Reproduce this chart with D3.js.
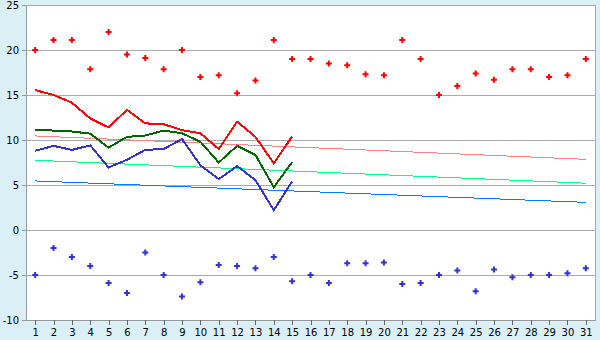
<!DOCTYPE html>
<html><head><meta charset="utf-8">
<script src="https://cdn.jsdelivr.net/npm/d3@7"></script>
<style>
html,body{margin:0;padding:0;background:#daf0f6;}
svg{display:block;}
text{font-family:"DejaVu Sans",sans-serif;font-size:10px;fill:#000;}
</style></head>
<body>
<svg id="chart" width="600" height="340"></svg>
<script>
const days = [1,2,3,4,5,6,7,8,9,10,11,12,13,14,15,16,17,18,19,20,21,22,23,24,25,26,27,28,29,30,31];
const yTicks = [-10,-5,0,5,10,15,20,25];
const maxPoints = [20,21.1,21.1,17.85,22,19.5,19.1,17.85,20,17,17.2,15.2,16.6,21.1,19,19,18.5,18.3,17.3,17.2,21.1,19,15,16,17.4,16.7,17.85,17.85,17,17.2,19];
const minPoints = [-5,-2,-3,-4,-5.9,-7,-2.5,-5,-7.4,-5.8,-3.9,-4,-4.25,-3,-5.7,-5,-5.9,-3.7,-3.7,-3.6,-6,-5.9,-5,-4.5,-6.8,-4.4,-5.25,-5,-5,-4.8,-4.25];
const lineDays = [1,2,3,4,5,6,7,8,9,10,11,12,13,14,15];
const redLine = [15.55,15.0,14.15,12.4,11.4,13.35,11.85,11.75,11.1,10.75,9.0,12.05,10.35,7.4,10.4];
const greenLine = [11.1,11.05,10.95,10.7,9.15,10.35,10.5,11.05,10.75,9.8,7.5,9.35,8.35,4.75,7.55];
const blueLine = [8.8,9.35,8.9,9.4,6.95,7.8,8.9,9.0,10.1,7.2,5.65,7.1,5.55,2.2,5.4];
const trendDays = [1,31];
const pinkTrend = [10.45,7.85];
const lightGreenTrend = [7.75,5.2];
const lightBlueTrend = [5.45,3.07];

const svg = d3.select("#chart");
const L=26, R=595, T=5, B=320;
const x = d3.scalePoint().domain(days).range([L,R]).padding(0.5);
const y = d3.scaleLinear().domain([-10,25]).range([B,T]);

svg.append("rect").attr("x",L).attr("y",T).attr("width",R-L).attr("height",B-T).attr("fill","#fff");

const yAxis = d3.axisLeft(y).tickValues(yTicks).tickSize(4).tickSizeOuter(0).tickPadding(3)
  .tickFormat(d=>String(d));
const gy = svg.append("g").attr("transform",`translate(${L},0)`).call(yAxis);
gy.select(".domain").attr("stroke","#999").attr("shape-rendering","crispEdges");
gy.selectAll(".tick line").attr("stroke","#999").attr("shape-rendering","crispEdges");
gy.selectAll(".tick text").attr("font-family","DejaVu Sans").attr("font-size",10);
svg.append("g").selectAll("line").data(yTicks.filter(v=>v>-10)).join("line")
  .attr("x1",L).attr("x2",R).attr("y1",d=>Math.round(y(d))+0.5).attr("y2",d=>Math.round(y(d))+0.5)
  .attr("stroke","#aaa");
svg.append("line").attr("x1",R+0.5).attr("x2",R+0.5).attr("y1",T).attr("y2",B).attr("stroke","#aaa");

const xAxis = d3.axisBottom(x).tickSize(5).tickSizeOuter(0).tickPadding(4);
const gx = svg.append("g").attr("transform",`translate(0,${B})`).call(xAxis);
gx.select(".domain").attr("stroke","#999").attr("shape-rendering","crispEdges");
gx.selectAll(".tick line").attr("stroke","#666").attr("shape-rendering","crispEdges");
gx.selectAll(".tick text").attr("font-family","DejaVu Sans").attr("font-size",10);

const line = d3.line().x(d=>x(d[0])).y(d=>y(d[1]));
function drawLine(xs, vs, color, w){
  svg.append("path").datum(xs.map((d,i)=>[d,vs[i]]))
    .attr("d",line).attr("fill","none").attr("stroke",color).attr("stroke-width",w)
    .attr("shape-rendering","crispEdges");
}
drawLine(trendDays, pinkTrend, "#ff8080", 1);
drawLine(trendDays, lightGreenTrend, "#00ff80", 1);
drawLine(trendDays, lightBlueTrend, "#0080ff", 1);
drawLine(lineDays, redLine, "#ff0000", 2);
drawLine(lineDays, greenLine, "#006600", 2);
drawLine(lineDays, blueLine, "#3333cc", 2);

const sym = d3.symbol().type(d3.symbolCross).size(20);
function drawPts(vs, color){
  svg.append("g").selectAll("path").data(days).join("path")
    .attr("transform",(d,i)=>`translate(${x(d)},${y(vs[i])})`)
    .attr("d",sym).attr("fill",color);
}
drawPts(maxPoints, "#ff0000");
drawPts(minPoints, "#3333cc");
</script>
</body></html>
